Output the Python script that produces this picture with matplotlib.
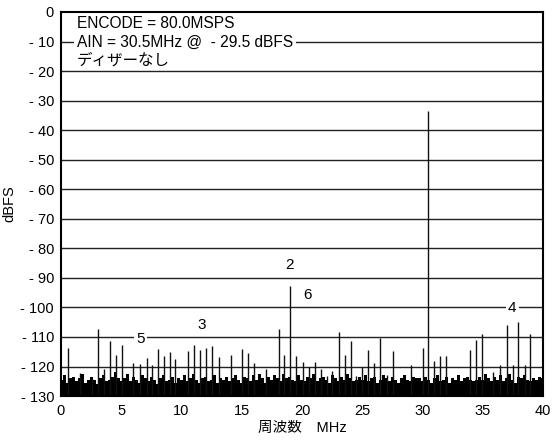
import numpy as np
import matplotlib
matplotlib.use("Agg")
import matplotlib.pyplot as plt

plt.rcParams['font.family'] = ['Liberation Sans', 'Noto Sans CJK JP', 'DejaVu Sans']

# discrete spurs (MHz, dBFS)
spur_f = [0.6, 1.55, 2.55, 3.06, 3.6, 4.08, 4.55, 5.06, 5.97, 6.58, 7.1, 7.56,
          8.06, 8.56, 9.03, 9.5, 10.56, 11.08, 11.56, 12.06, 12.5, 13.1, 14.08,
          15.06, 15.56, 16.06, 17.0, 18.06, 18.52, 19.02, 19.5, 20.05, 20.56,
          21.05, 21.55, 22.05, 22.5, 23.07, 23.56, 24.05, 24.52, 25.0, 25.52,
          26.0, 26.52, 27.04, 27.53, 29.02, 30.02, 30.47, 30.96, 31.45, 31.95,
          33.95, 34.48, 34.93, 35.9, 36.4, 36.99, 37.5, 37.97, 38.5, 38.92]
spur_db = [-113.9, -122.2, -123.9, -107.2, -120.8, -111.4, -116.0, -112.8, -118.8,
           -119.0, -117.0, -119.5, -114.1, -116.4, -115.2, -117.4, -114.6, -112.8,
           -114.4, -113.7, -112.9, -116.9, -116.2, -114.2, -115.5, -118.9, -121.0,
           -107.3, -116.0, -92.8, -116.5, -118.6, -120.1, -118.6, -121.0, -123.2,
           -121.6, -108.3, -116.2, -111.5, -123.2, -120.3, -114.5, -118.8, -110.2,
           -122.8, -114.8, -119.4, -113.8, -33.5, -118.1, -116.5, -116.5, -114.5,
           -111.1, -109.1, -121.9, -119.5, -106.1, -119.4, -105.0, -119.6, -108.9]

# noise floor envelope, every 0.25 MHz from 0 to 40 MHz
floor_db = [
    -124.5, -123.0, -125.5, -124.0, -123.5, -125.0, -124.0, -122.5, -125.5, -124.5,
    -123.5, -124.5, -126.0, -124.0, -123.0, -125.0, -124.5, -123.5, -122.0, -124.0,
    -125.0, -124.0, -122.5, -125.0, -123.5, -124.5, -125.5, -123.0, -124.0, -125.0,
    -123.5, -124.5, -126.0, -124.0, -123.0, -125.0, -124.5, -123.5, -125.5, -124.0,
    -124.5, -123.0, -125.0, -124.0, -122.5, -124.5, -125.5, -124.0, -123.5, -125.0,
    -124.5, -123.0, -125.5, -124.0, -124.5, -123.5, -125.0, -124.0, -123.0, -124.5,
    -125.5, -123.5, -124.0, -125.0, -123.0, -124.5, -122.5, -124.0, -125.5, -123.5,
    -124.5, -123.0, -124.0, -125.0, -122.5, -124.0, -123.5, -124.5, -125.0, -123.0,
    -124.5, -125.0, -123.5, -124.0, -122.5, -125.0, -124.0, -123.5, -124.5, -125.5,
    -123.0, -124.0, -125.0, -123.5, -124.5, -122.5, -124.0, -125.0, -124.5, -123.5,
    -124.5, -123.0, -125.0, -124.0, -123.5, -125.5, -124.5, -123.0, -124.0, -125.0,
    -123.5, -124.5, -125.5, -124.0, -123.0, -124.5, -125.0, -123.5, -124.0, -124.0,
    -125.0, -123.5, -124.5, -125.5, -124.0, -123.0, -125.0, -124.5, -123.5, -125.5,
    -124.0, -124.5, -123.0, -125.0, -124.0, -123.5, -124.5, -125.0, -124.5, -123.5,
    -124.5, -122.5, -124.0, -125.0, -123.5, -124.5, -123.0, -125.0, -124.0, -122.5,
    -124.5, -125.5, -123.5, -124.0, -123.0, -124.5, -125.0, -124.0, -124.5, -123.5,
    -124.0]

yticks = list(range(0, -140, -10))
xticks = list(range(0, 45, 5))

labels = [("2", 19.0, -85.5), ("6", 20.5, -95.8), ("3", 11.7, -105.8),
          ("5", 6.6, -110.8), ("4", 37.45, -100.3)]

fig = plt.figure(figsize=(5.52, 4.44), dpi=100)
ax = fig.add_axes([0.1105, 0.108, 0.873, 0.865])

for y in yticks[1:-1]:
    ax.axhline(y, color='#222222', lw=1.0, zorder=1)

freq = np.linspace(0, 40, len(floor_db))
ax.fill_between(freq, -130, floor_db, step='mid', color='black', lw=0, zorder=2)
ax.vlines(spur_f, -130, spur_db, color='#111111', lw=1.0, zorder=3)

for s, f, d in labels:
    ax.text(f, d, s, ha='center', va='center', fontsize=11, zorder=4,
            bbox=dict(facecolor='white', edgecolor='none', pad=1.5))

ax.text(1.3, -3.9, "ENCODE = 80.0MSPS", fontsize=11.2, va='center', zorder=4)
ax.text(1.3, -10.2, "AIN = 30.5MHz @  - 29.5 dBFS", fontsize=11.2, va='center', zorder=4,
        bbox=dict(facecolor='white', edgecolor='none', pad=2))
ax.text(1.3, -16.4, "ディザーなし", fontsize=11.2, va='center', zorder=4)

ax.set_xlim(0, 40)
ax.set_ylim(-130, 0)
ax.set_xticks(xticks)
ax.set_yticks(yticks)
ax.set_yticklabels(["0"] + [f"- {abs(v)}" for v in yticks[1:]])
ax.tick_params(length=0, labelsize=10.5)
ax.tick_params(axis='y', pad=5)
ax.tick_params(axis='x', pad=6)
for sp in ax.spines.values():
    sp.set_linewidth(1.5)
    sp.set_zorder(5)

ax.set_ylabel("dBFS", fontsize=10.5, labelpad=3)
ax.set_xlabel("周波数　MHz", fontsize=10.5, labelpad=2)

fig.savefig("out.png", dpi=100)
